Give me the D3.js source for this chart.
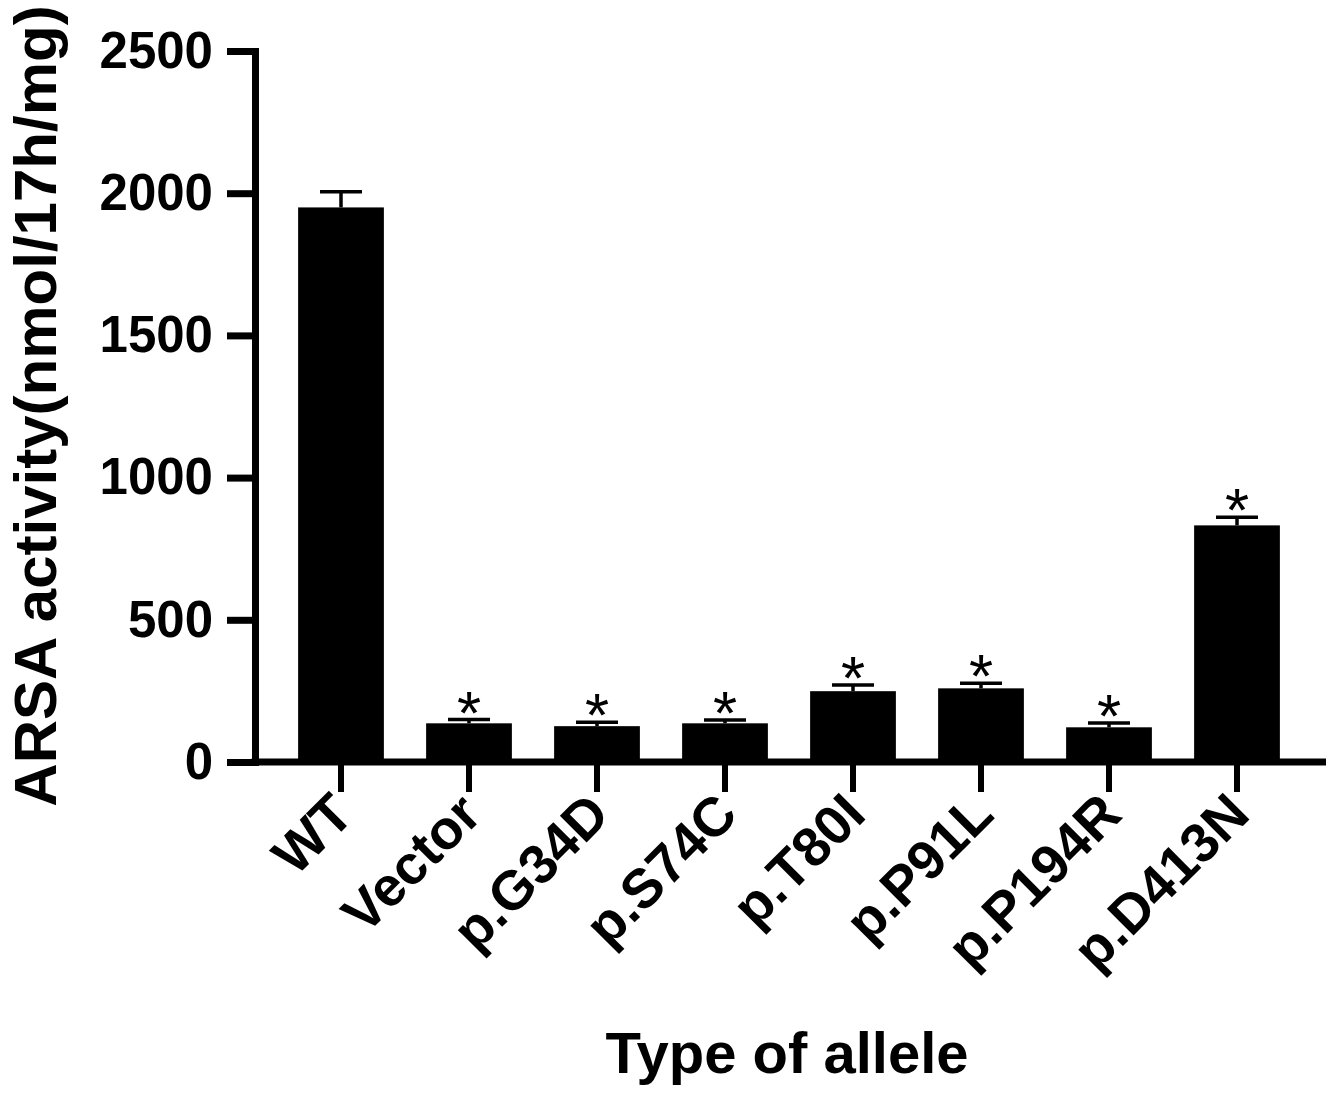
<!DOCTYPE html>
<html>
<head>
<meta charset="utf-8">
<script src="https://cdn.jsdelivr.net/npm/d3@7"></script>
<style>
  html, body { margin: 0; padding: 0; background: #fff; }
  svg { display: block; }
  text { font-family: "Liberation Sans", Arial, Helvetica, sans-serif; }
</style>
</head>
<body>
<svg id="chart" width="1333" height="1094"></svg>
<script>
const categories = ["WT", "Vector", "p.G34D", "p.S74C", "p.T80I", "p.P91L", "p.P194R", "p.D413N"];
const means = [1950, 136, 126, 136, 249, 259, 122, 832];
const errors = [55, 13, 14, 12, 22, 18, 15, 29];
const marks = ["", "*", "*", "*", "*", "*", "*", "*"];
const yTicks = [0, 500, 1000, 1500, 2000, 2500];
const yTitle = "ARSA activity(nmol/17h/mg)";
const xTitle = "Type of allele";

const data = categories.map((c, i) => ({ cat: c, mean: means[i], err: errors[i], mark: marks[i] }));

const svg = d3.select("#chart");
const W = 1333, H = 1094;
svg.append("rect").attr("width", W).attr("height", H).attr("fill", "#fff");

const axisX = 255;      // y-axis position
const x = d3.scaleBand().domain(categories).range([277, 1301]).paddingInner(0.33).paddingOuter(0.165);
const y = d3.scaleLinear().domain([0, 2500]).range([762, 51]);

// bars
svg.append("g").selectAll("rect").data(data).join("rect")
  .attr("x", d => x(d.cat))
  .attr("y", d => y(d.mean))
  .attr("width", x.bandwidth())
  .attr("height", d => y(0) - y(d.mean))
  .attr("fill", "#000");

// error bars (upper only)
const eb = svg.append("g").attr("stroke", "#000").attr("stroke-width", 3.5);
eb.selectAll("line.stem").data(data).join("line").attr("class", "stem")
  .attr("x1", d => x(d.cat) + x.bandwidth() / 2)
  .attr("x2", d => x(d.cat) + x.bandwidth() / 2)
  .attr("y1", d => y(d.mean))
  .attr("y2", d => y(d.mean + d.err));
eb.selectAll("line.cap").data(data).join("line").attr("class", "cap")
  .attr("x1", d => x(d.cat) + x.bandwidth() / 2 - 21)
  .attr("x2", d => x(d.cat) + x.bandwidth() / 2 + 21)
  .attr("y1", d => y(d.mean + d.err))
  .attr("y2", d => y(d.mean + d.err));

// significance asterisks
svg.append("g").selectAll("text").data(data.filter(d => d.mark)).join("text")
  .attr("x", d => x(d.cat) + x.bandwidth() / 2)
  .attr("y", d => y(d.mean + d.err) + 14)
  .attr("text-anchor", "middle")
  .attr("font-size", 62)
  .attr("fill", "#000")
  .text(d => d.mark);

// y axis
const gy = svg.append("g").attr("transform", `translate(${axisX},0)`)
  .call(d3.axisLeft(y).tickValues(yTicks).tickFormat(d3.format("d")).tickSize(28).tickSizeOuter(0).tickPadding(14));
gy.select(".domain").attr("stroke", "#000").attr("stroke-width", 7).attr("stroke-linecap", "square");
gy.selectAll(".tick line").attr("stroke", "#000").attr("stroke-width", 7);
gy.selectAll(".tick text").attr("font-size", 51).attr("font-weight", "bold").attr("fill", "#000")
  .attr("font-family", "Liberation Sans, Arial, sans-serif");

// x axis
const gx = svg.append("g").attr("transform", `translate(0,${y(0)})`)
  .call(d3.axisBottom(x).tickSize(30).tickSizeOuter(0).tickPadding(0));
gx.select(".domain").remove();
gx.selectAll(".tick line").attr("stroke", "#000").attr("stroke-width", 6);
gx.selectAll(".tick text")
  .attr("font-size", 55).attr("font-weight", "bold").attr("fill", "#000")
  .attr("font-family", "Liberation Sans, Arial, sans-serif")
  .attr("text-anchor", "end")
  .attr("dy", null)
  .attr("y", 0)
  .attr("transform", "translate(15,55) rotate(-45)");
svg.append("line")
  .attr("x1", axisX - 3.5).attr("x2", 1326)
  .attr("y1", y(0)).attr("y2", y(0))
  .attr("stroke", "#000").attr("stroke-width", 7);

// axis titles
svg.append("text")
  .attr("transform", `translate(56,406) rotate(-90)`)
  .attr("text-anchor", "middle")
  .attr("font-size", 60).attr("font-weight", "bold").attr("fill", "#000")
  .text(yTitle);
svg.append("text")
  .attr("x", 787).attr("y", 1073)
  .attr("text-anchor", "middle")
  .attr("font-size", 58).attr("font-weight", "bold").attr("fill", "#000")
  .text(xTitle);
</script>
</body>
</html>
